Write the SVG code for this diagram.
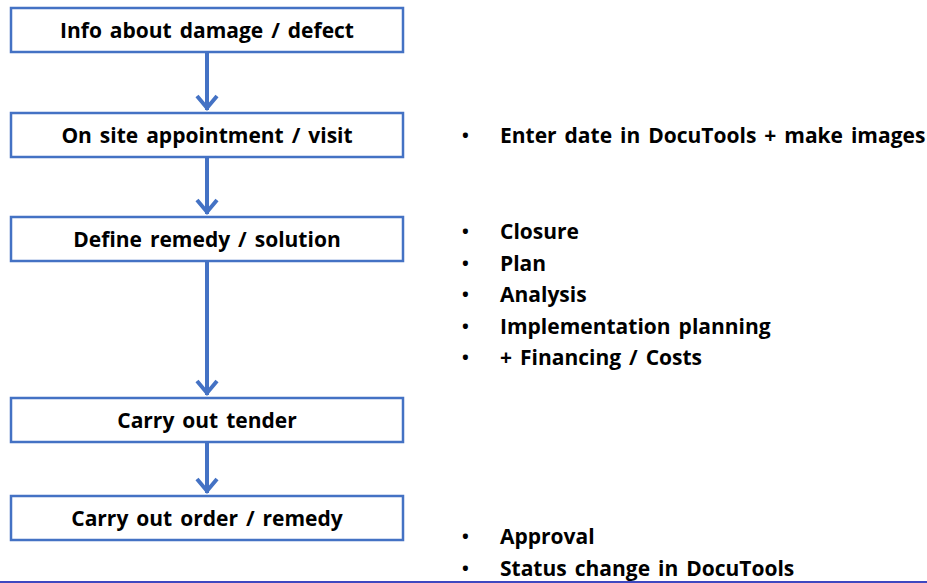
<svg xmlns="http://www.w3.org/2000/svg" width="927" height="583" viewBox="0 0 927 583">
<style>
.box{fill:#fff;stroke:#4472C4;stroke-width:2.5}
.t{font-family:"Open Sans","Liberation Sans",sans-serif;font-weight:bold;font-size:21px;word-spacing:2.5px;fill:#000}
.c{text-anchor:middle}
.b{font-size:18px}
.con{stroke:#4472C4;stroke-width:4;fill:none}
.head{stroke:#4472C4;stroke-width:4;fill:none;stroke-linejoin:miter}
</style>
<rect width="927" height="583" fill="#fff"/>
<g id="connectors">
<line class="con" x1="207" y1="52" x2="207" y2="110"/>
<polyline class="head" points="197,96 207,108 217,96"/>
<line class="con" x1="207" y1="157" x2="207" y2="214"/>
<polyline class="head" points="197,200 207,212 217,200"/>
<line class="con" x1="207" y1="261" x2="207" y2="395"/>
<polyline class="head" points="197,381 207,393 217,381"/>
<line class="con" x1="207" y1="442" x2="207" y2="493"/>
<polyline class="head" points="197,479 207,491 217,479"/>
</g>
<g id="n1"><rect class="box" x="11" y="8" width="392" height="44"/><text class="t c" x="207" y="38">Info about damage / defect</text></g>
<g id="n2"><rect class="box" x="11" y="113" width="392" height="44"/><text class="t c" x="207" y="143">On site appointment / visit</text></g>
<g id="n3"><rect class="box" x="11" y="217" width="392" height="44"/><text class="t c" x="207" y="247">Define remedy / solution</text></g>
<g id="n4"><rect class="box" x="11" y="398" width="392" height="44"/><text class="t c" x="207" y="428">Carry out tender</text></g>
<g id="n5"><rect class="box" x="11" y="496" width="392" height="44"/><text class="t c" x="207" y="526">Carry out order / remedy</text></g>
<g id="notes" class="t">
<text class="b" x="462" y="142">•</text><text x="500" y="143">Enter date in DocuTools + make images</text>
<text class="b" x="462" y="238">•</text><text x="500" y="239">Closure</text>
<text class="b" x="462" y="270">•</text><text x="500" y="271">Plan</text>
<text class="b" x="462" y="301">•</text><text x="500" y="302">Analysis</text>
<text class="b" x="462" y="333">•</text><text x="500" y="334">Implementation planning</text>
<text class="b" x="462" y="364">•</text><text x="500" y="365">+ Financing / Costs</text>
<text class="b" x="462" y="543">•</text><text x="500" y="544">Approval</text>
<text class="b" x="462" y="575">•</text><text x="500" y="576">Status change in DocuTools</text>
</g>
<line x1="0" y1="582" x2="927" y2="582" stroke="#3F48C0" stroke-width="2"/>
</svg>
